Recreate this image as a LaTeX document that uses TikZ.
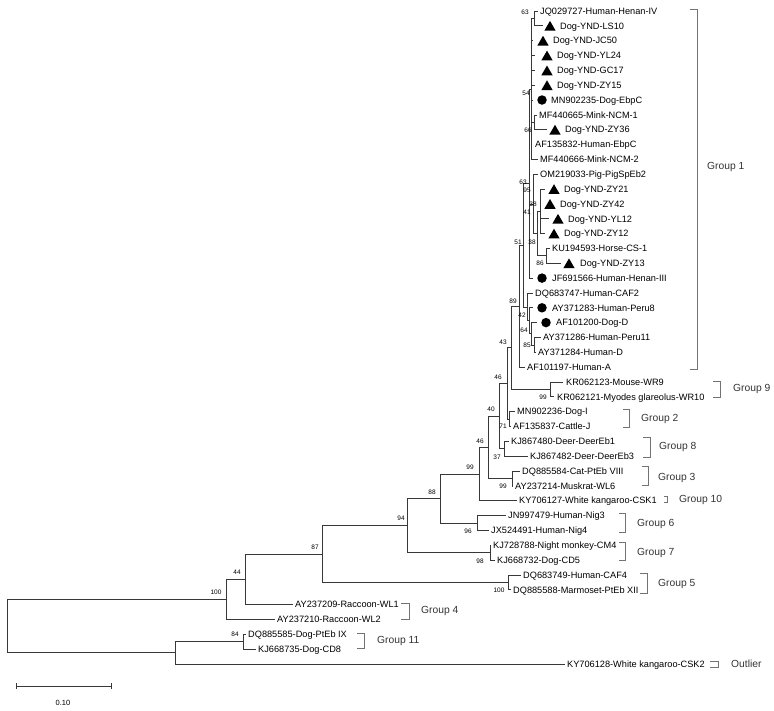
\documentclass[tikz,border=0pt]{standalone}
\usepackage{fontspec}
\setmainfont{Liberation Sans}
\usetikzlibrary{shapes.geometric}
\begin{document}
\begin{tikzpicture}[x=1pt,y=-1pt,
  br/.style={draw=black!78, line width=0.75pt},
  gb/.style={draw=black!55, line width=0.6pt},
  leaf/.style={anchor=west, inner sep=0pt, text height=6.5pt, text depth=0pt, font=\fontsize{9.2}{10}\selectfont},
  bs/.style={inner sep=0pt, text height=4.7pt, text depth=0pt, font=\fontsize{6.5}{7}\selectfont},
  grp/.style={anchor=west, inner sep=0pt, text height=7.2pt, text depth=0pt, text=black!80, font=\fontsize{10.3}{12}\selectfont},
  tri/.style={regular polygon, regular polygon sides=3, fill=black, inner sep=0pt, minimum size=13pt, yshift=-1.6pt},
  dot/.style={circle, fill=black, inner sep=0pt, minimum size=9.5pt}]
\useasboundingbox (0,0) rectangle (774,710);

% internal nodes
\coordinate (nR) at (7,626.1);
\coordinate (nB) at (175,652.85);
\coordinate (nG11) at (243,641.7);
\coordinate (nA) at (226,599.35);
\coordinate (n44) at (245,579.3);
\coordinate (n87) at (322,554.0);
\coordinate (nG5) at (508,582.35);
\coordinate (n94) at (407,525.6);
\coordinate (nG7) at (490,552.65);
\coordinate (n88) at (440,498.5);
\coordinate (nG6) at (477,523.0);
\coordinate (n99a) at (479,474.0);
\coordinate (n46b) at (488,447.3);
\coordinate (nG3) at (512,478.45);
\coordinate (n40) at (499,416.1);
\coordinate (nG8) at (504,448.8);
\coordinate (n46a) at (507,383.45);
\coordinate (nG2) at (509,419.1);
\coordinate (n43) at (511,347.8);
\coordinate (nG9) at (550,389.4);
\coordinate (n89) at (519,306.2);
\coordinate (n51) at (523,245.2);
\coordinate (n20) at (527,306.9);
\coordinate (n42) at (529,320.8);
\coordinate (n64) at (531,333.75);
\coordinate (n85) at (534,344.9);
\coordinate (nBIG) at (529,183.5);
\coordinate (n54) at (531,88.9);
\coordinate (n63a) at (534,18.4);
\coordinate (n66) at (534,122.3);
\coordinate (n41) at (533,203.9);
\coordinate (n38b) at (537,233.6);
\coordinate (n38a) at (540,211.35);
\coordinate (n86) at (546,255.85);

% leaf branch ends, leaf texts
\foreach \i/\y/\e/\t/\txt in {
 1/11.0/538/540/JQ029727-Human-Henan-IV,
 2/25.8/543/560/Dog-YND-LS10,
 3/40.7/533/553/Dog-YND-JC50,
 4/55.5/535/557/Dog-YND-YL24,
 5/70.4/535/557/Dog-YND-GC17,
 6/85.2/535/557/Dog-YND-ZY15,
 7/100.0/533/551/MN902235-Dog-EbpC,
 8/114.9/537/539/MF440665-Mink-NCM-1,
 9/129.7/547/565/Dog-YND-ZY36,
 10/144.6/532/535/AF135832-Human-EbpC,
 11/159.4/538/540/MF440666-Mink-NCM-2,
 12/174.2/538/540/OM219033-Pig-PigSpEb2,
 13/189.1/545/564/Dog-YND-ZY21,
 14/203.9/541/560/Dog-YND-ZY42,
 15/218.8/549/568/Dog-YND-YL12,
 16/233.6/545/564/Dog-YND-ZY12,
 17/248.4/550/552/KU194593-Horse-CS-1,
 18/263.3/561/580/Dog-YND-ZY13,
 19/278.1/533/552/JF691566-Human-Henan-III,
 20/293.0/533/535/DQ683747-Human-CAF2,
 21/307.8/533/552/AY371283-Human-Peru8,
 22/322.6/537/556/AF101200-Dog-D,
 23/337.5/541/543/AY371286-Human-Peru11,
 24/352.3/536/538/AY371284-Human-D,
 25/367.2/525/527/AF101197-Human-A,
 26/382.0/563/566/KR062123-Mouse-WR9,
 27/396.8/554/557/KR062121-Myodes glareolus-WR10,
 28/411.7/515/517/MN902236-Dog-I,
 29/426.5/511/513/AF135837-Cattle-J,
 30/441.4/509/511/KJ867480-Deer-DeerEb1,
 31/456.2/528/530/KJ867482-Deer-DeerEb3,
 32/471.0/520/522/DQ885584-Cat-PtEb VIII,
 33/485.9/513/515/AY237214-Muskrat-WL6,
 34/500.7/517/519/KY706127-White kangaroo-CSK1,
 35/515.6/506/508/JN997479-Human-Nig3,
 36/530.4/489/491/JX524491-Human-Nig4,
 37/545.2/491/493/KJ728788-Night monkey-CM4,
 38/560.1/495/497/KJ668732-Dog-CD5,
 39/574.9/521/523/DQ683749-Human-CAF4,
 40/589.8/511/513/DQ885588-Marmoset-PtEb XII,
 41/604.6/293/295/AY237209-Raccoon-WL1,
 42/619.4/275/277/AY237210-Raccoon-WL2,
 43/634.3/246/248/DQ885585-Dog-PtEb IX,
 44/649.1/256/258/KJ668735-Dog-CD8,
 45/664.0/565/567/KY706128-White kangaroo-CSK2}
{
  \coordinate (e\i) at (\e,\y);
  \node[leaf] (t\i) at (\t,\y) {\txt};
}

% markers
\foreach \i/\x/\y in {2/550/25.8, 3/543/40.7, 4/547/55.5, 5/547/70.4, 6/547/85.2,
  9/555/129.7, 13/554/189.1, 14/550/203.9, 15/558/218.8, 16/554/233.6, 18/569/263.3}
  \node[tri] (m\i) at (\x,\y) {};
\foreach \i/\x/\y in {7/542/100.0, 19/542/278.1, 21/542/307.8, 22/546/322.6}
  \node[dot] (m\i) at (\x,\y) {};

% branches
\foreach \p/\c in {nR/nA, nR/nB, nB/nG11, nB/e45, nG11/e43, nG11/e44,
  nA/n44, nA/e42, n44/n87, n44/e41, n87/n94, n87/nG5, nG5/e39, nG5/e40,
  n94/n88, n94/nG7, nG7/e37, nG7/e38, n88/n99a, n88/nG6, nG6/e35, nG6/e36,
  n99a/n46b, n99a/e34, n46b/n40, n46b/nG3, nG3/e32, nG3/e33,
  n40/n46a, n40/nG8, nG8/e30, nG8/e31, n46a/n43, n46a/nG2, nG2/e28, nG2/e29,
  n43/n89, n43/nG9, nG9/e26, nG9/e27, n89/n51, n89/e25,
  n51/nBIG, n51/n20, n20/e20, n20/n42, n42/e21, n42/n64, n64/e22, n64/n85,
  n85/e23, n85/e24, nBIG/n54, nBIG/n41, nBIG/e19,
  n54/n63a, n54/e3, n54/e4, n54/e5, n54/e6, n54/e7, n54/n66, n54/e10, n54/e11,
  n63a/e1, n63a/e2, n66/e8, n66/e9, n41/e12, n41/n38b, n38b/n38a, n38b/n86,
  n38a/e13, n38a/e14, n38a/e15, n38a/e16, n86/e17, n86/e18}
  \draw[br] (\p) |- (\c);

% bootstrap values
\foreach \k/\x/\y/\v in {1/525/12/63, 2/526/93/54, 3/528/130/66, 4/523/182/63,
  5/527/190/95, 6/533/204/38, 7/527/212/41, 8/518/242/51, 9/532/242/38,
  10/540/263/86, 11/513/301/89, 12/522/315/42, 13/524/330/64, 14/527/345/85,
  15/503/342/43, 16/498/377/46, 17/543/397/99, 18/491/409/40, 19/503/426/71,
  20/480/441/46, 21/497/457/37, 22/470/467/99, 23/503/486/99, 24/432/492/88,
  25/401/518/94, 26/468/531/96, 27/480/561/98, 28/315/547/87, 29/499/590/100,
  30/237/572/44, 31/216/592/100, 32/235/634/84}
  \node[bs] (b\k) at (\x,\y) {\v};

% group brackets
\draw[gb] (690,9) -- (697,9) -- (697,369) -- (690,369);
\node[grp] (g1) at (707,166) {Group 1};
\draw[gb] (713,381) -- (720,381) -- (720,397) -- (713,397);
\node[grp] (g9) at (733,388) {Group 9};
\draw[gb] (623,409) -- (629,409) -- (629,427) -- (623,427);
\node[grp] (g2) at (641,418) {Group 2};
\draw[gb] (643,437) -- (650,437) -- (650,457) -- (643,457);
\node[grp] (g8) at (659,446) {Group 8};
\draw[gb] (642,466) -- (648,466) -- (648,485) -- (642,485);
\node[grp] (g3) at (658,477) {Group 3};
\draw[gb] (664,496) -- (667,496) -- (667,502) -- (664,502);
\node[grp] (g10) at (679,499) {Group 10};
\draw[gb] (619,513) -- (625,513) -- (625,532) -- (619,532);
\node[grp] (g6) at (637,523) {Group 6};
\draw[gb] (619,542) -- (625,542) -- (625,560) -- (619,560);
\node[grp] (g7) at (637,552) {Group 7};
\draw[gb] (640,573) -- (647,573) -- (647,593) -- (640,593);
\node[grp] (g5) at (658,583) {Group 5};
\draw[gb] (401,603) -- (409,603) -- (409,619) -- (401,619);
\node[grp] (g4) at (421,610) {Group 4};
\draw[gb] (357,633) -- (364,633) -- (364,648) -- (357,648);
\node[grp] (g11) at (377,640) {Group 11};
\draw[gb] (710,661) -- (718,661) -- (718,667) -- (710,667);
\node[grp] (gout) at (731,664) {Outlier};

% scale bar
\coordinate (s1) at (16,686);
\coordinate (s2) at (111,686);
\draw[br, line width=0.7pt] (s1) -- (s2);
\draw[br, line width=0.7pt] (16,683) -- (16,689) (111,683) -- (111,689);
\node[bs, font=\fontsize{7.5}{8}\selectfont] (sl) at (63,703) {0.10};
\end{tikzpicture}
\end{document}
